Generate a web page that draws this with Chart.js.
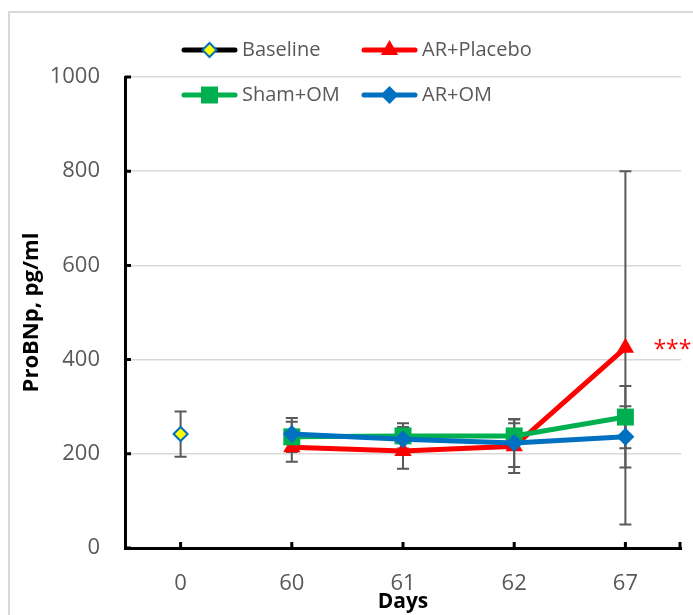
<!DOCTYPE html>
<html><head><meta charset="utf-8">
<script src="https://cdn.jsdelivr.net/npm/chart.js@4/dist/chart.umd.min.js"></script>
<style>html,body{margin:0;padding:0;background:#fff;} #wrap{width:693px;height:615px;position:relative;}</style>
</head><body><div id="wrap"><canvas id="c" width="693" height="615"></canvas></div>
<script>
// ---- data ----
const days = ['0', '60', '61', '62', '67'];
const seriesNames = ['Baseline', 'AR+Placebo', 'Sham+OM', 'AR+OM'];
const baseline = [242, null, null, null, null];
const baselineErr = [48, null, null, null, null];
const arPlacebo = [null, 214, 206, 216, 425];
const arPlaceboErr = [null, 31, 38, 57, 375];
const shamOM = [null, 236, 238, 238, 278];
const shamOMErr = [null, 32, 27, 27, 66];
const arOM = [null, 242, 231, 223, 236];
const arOMErr = [null, 34, 26, 51, 65];
const yMin = 0, yMax = 1000, yStep = 200;
const significance = ['', '', '', '', '***'];
const yTitle = 'ProBNp, pg/ml';
const xTitle = 'Days';

const FONT = "'Open Sans', 'DejaVu Sans', sans-serif";
Chart.defaults.font.family = FONT;

function drawMarker(ctx, style, x, y, r, fill, stroke, bw) {
  ctx.save();
  ctx.beginPath();
  if (style === 'rectRot') {
    ctx.moveTo(x - r, y); ctx.lineTo(x, y - r); ctx.lineTo(x + r, y); ctx.lineTo(x, y + r); ctx.closePath();
  } else if (style === 'rect') {
    const s = r * Math.SQRT1_2; ctx.rect(x - s, y - s, 2 * s, 2 * s);
  } else if (style === 'triangle') {
    for (let i = 0; i < 3; i++) {
      const a = i * 2 * Math.PI / 3;
      const px = x + Math.sin(a) * r, py = y - Math.cos(a) * r;
      if (i === 0) ctx.moveTo(px, py); else ctx.lineTo(px, py);
    }
    ctx.closePath();
  }
  ctx.fillStyle = fill; ctx.fill();
  if (bw > 0) { ctx.lineWidth = bw; ctx.strokeStyle = stroke; ctx.stroke(); }
  ctx.restore();
}

const errorsByLabel = {
  'Baseline': baselineErr, 'AR+Placebo': arPlaceboErr, 'Sham+OM': shamOMErr, 'AR+OM': arOMErr
};

const framePlugin = {
  id: 'frame',
  beforeDraw(chart) {
    const ctx = chart.ctx;
    ctx.save();
    ctx.fillStyle = '#fff'; ctx.fillRect(0, 0, chart.width, chart.height);
    ctx.strokeStyle = '#d9d9d9'; ctx.lineWidth = 2;
    ctx.strokeRect(9, 12, chart.width + 20, chart.height + 20);
    ctx.restore();
  }
};

const errorBarPlugin = {
  id: 'errorBars',
  beforeDatasetsDraw(chart) {
    const ctx = chart.ctx, xs = chart.scales.x, ys = chart.scales.y;
    ctx.save();
    ctx.strokeStyle = '#595959'; ctx.lineWidth = 2;
    chart.data.datasets.forEach(ds => {
      const errs = errorsByLabel[ds.label];
      ds.data.forEach((v, i) => {
        if (v == null || errs[i] == null) return;
        const x = xs.getPixelForValue(i);
        const yt = ys.getPixelForValue(v + errs[i]);
        const yb = ys.getPixelForValue(v - errs[i]);
        ctx.beginPath();
        ctx.moveTo(x, yt); ctx.lineTo(x, yb);
        ctx.moveTo(x - 6, yt); ctx.lineTo(x + 6, yt);
        ctx.moveTo(x - 6, yb); ctx.lineTo(x + 6, yb);
        ctx.stroke();
      });
    });
    ctx.restore();
  }
};

const innerTicksPlugin = {
  id: 'innerTicks',
  afterDatasetsDraw(chart) {
    const ctx = chart.ctx, xs = chart.scales.x, ys = chart.scales.y;
    const a = chart.chartArea;
    ctx.save();
    ctx.strokeStyle = '#000'; ctx.lineWidth = 3;
    ctx.beginPath();
    ys.ticks.forEach(t => {
      const y = ys.getPixelForValue(t.value);
      ctx.moveTo(a.left, y); ctx.lineTo(a.left + 6, y);
    });
    days.forEach((d, i) => {
      const x = xs.getPixelForValue(i);
      ctx.moveTo(x, a.bottom); ctx.lineTo(x, a.bottom - 6);
    });
    ctx.moveTo(a.right - 1, a.bottom); ctx.lineTo(a.right - 1, a.bottom - 6);
    ctx.stroke();
    ctx.restore();
  }
};

const sigPlugin = {
  id: 'sig',
  afterDraw(chart) {
    const ctx = chart.ctx, xs = chart.scales.x, ys = chart.scales.y;
    ctx.save();
    ctx.fillStyle = '#ff0000';
    ctx.font = '23px ' + FONT;
    ctx.textAlign = 'left'; ctx.textBaseline = 'middle';
    significance.forEach((s, i) => {
      if (!s) return;
      ctx.fillText(s, xs.getPixelForValue(i) + 28, ys.getPixelForValue(arPlacebo[i]) + 3);
    });
    ctx.restore();
  }
};

const legendItems = [
  { name: seriesNames[0], line: '#000000', style: 'rectRot', r: 7, fill: '#ffff00', stroke: '#0070c0', bw: 2, x: 182, y: 50 },
  { name: seriesNames[1], line: '#ff0000', style: 'triangle', r: 10, fill: '#ff0000', stroke: '#ff0000', bw: 0, x: 362, y: 50 },
  { name: seriesNames[2], line: '#00b050', style: 'rect', r: 12, fill: '#00b050', stroke: '#00b050', bw: 0, x: 182, y: 95 },
  { name: seriesNames[3], line: '#0070c0', style: 'rectRot', r: 9, fill: '#0070c0', stroke: '#0070c0', bw: 0, x: 362, y: 95 }
];

const legendPlugin = {
  id: 'customLegend',
  afterDraw(chart) {
    const ctx = chart.ctx;
    ctx.save();
    legendItems.forEach(it => {
      ctx.strokeStyle = it.line; ctx.lineWidth = 5; ctx.lineCap = 'round';
      ctx.beginPath(); ctx.moveTo(it.x + 2, it.y); ctx.lineTo(it.x + 53, it.y); ctx.stroke();
      drawMarker(ctx, it.style, it.x + 27.5, it.y, it.r, it.fill, it.stroke, it.bw);
      ctx.fillStyle = '#595959';
      ctx.font = '20px ' + FONT;
      ctx.textAlign = 'left'; ctx.textBaseline = 'middle';
      ctx.fillText(it.name, it.x + 60, it.y);
    });
    ctx.restore();
  }
};

new Chart(document.getElementById('c'), {
  type: 'line',
  data: {
    labels: days,
    datasets: [
      { label: seriesNames[0], data: baseline, borderColor: '#000000', borderWidth: 5, showLine: false,
        pointStyle: 'rectRot', pointRadius: 7, pointBackgroundColor: '#ffff00', pointBorderColor: '#0070c0', pointBorderWidth: 2, order: 3 },
      { label: seriesNames[1], data: arPlacebo, borderColor: '#ff0000', borderWidth: 5, tension: 0,
        pointStyle: 'triangle', pointRadius: 10, pointBackgroundColor: '#ff0000', pointBorderColor: '#ff0000', pointBorderWidth: 0, order: 2 },
      { label: seriesNames[2], data: shamOM, borderColor: '#00b050', borderWidth: 5, tension: 0,
        pointStyle: 'rect', pointRadius: 12, pointBackgroundColor: '#00b050', pointBorderColor: '#00b050', pointBorderWidth: 0, order: 1 },
      { label: seriesNames[3], data: arOM, borderColor: '#0070c0', borderWidth: 5, tension: 0,
        pointStyle: 'rectRot', pointRadius: 9, pointBackgroundColor: '#0070c0', pointBorderColor: '#0070c0', pointBorderWidth: 0, order: 0 }
    ]
  },
  options: {
    responsive: false,
    devicePixelRatio: 1,
    animation: false,
    events: [],
    layout: { padding: { left: 0, top: 77, right: 8, bottom: 0 } },
    plugins: { legend: { display: false }, tooltip: { enabled: false } },
    scales: {
      x: {
        type: 'category',
        offset: true,
        afterFit(s) { s.height = 67; },
        grid: { display: false, drawTicks: false },
        border: { display: true, color: '#000000', width: 3 },
        ticks: { color: '#595959', font: { size: 22 }, padding: 23, maxRotation: 0 },
        title: { display: true, text: xTitle, color: '#000000', font: { size: 21, weight: 'bold' }, padding: { top: 0, bottom: 0 } }
      },
      y: {
        min: yMin, max: yMax,
        afterFit(s) { s.width = 125; },
        grid: { color: '#d9d9d9', lineWidth: 1.5, drawTicks: false },
        border: { display: true, color: '#000000', width: 3 },
        ticks: { stepSize: yStep, color: '#595959', font: { size: 22 }, padding: 25, callback: v => String(v) },
        title: { display: true, text: yTitle, color: '#000000', font: { size: 22, weight: 'bold' }, padding: { top: 19, bottom: 0 } }
      }
    }
  },
  plugins: [framePlugin, errorBarPlugin, innerTicksPlugin, sigPlugin, legendPlugin]
});
</script>
</body></html>
